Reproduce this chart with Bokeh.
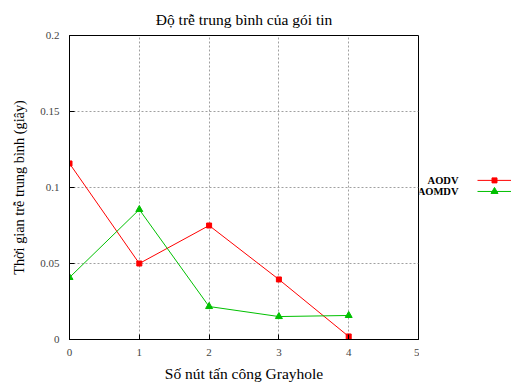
from bokeh.plotting import figure
from bokeh.layouts import row
from bokeh.models import Range1d, FixedTicker
from bokeh.core.properties import value
from bokeh.embed import file_html
from bokeh.resources import INLINE

# data
nodes = [0, 1, 2, 3, 4]
aodv = [0.1158, 0.0500, 0.0750, 0.0395, 0.0020]
aomdv = [0.0408, 0.0855, 0.0217, 0.0151, 0.0158]
series_names = ["AODV", "AOMDV"]
x_ticks = [0, 1, 2, 3, 4, 5]
y_ticks = [0, 0.05, 0.1, 0.15, 0.2]
y_tick_labels = {0: "0", 0.05: "0.05", 0.1: "0.1", 0.15: "0.15", 0.2: "0.2"}
title_text = "Độ trễ trung bình của gói tin"
x_title = "Số nút tấn công Grayhole"
y_title = "Thời gian trễ trung bình (giây)"

FONT = "Liberation Serif"
RED = "#ff0000"
GREEN = "#00c000"
GRID = "#a0a0a0"

W, H = 511, 384
ML, MB, MT = 69, 45, 35
MAIN_W = 419                   # frame right edge at page x = 418

p = figure(width=MAIN_W, height=H, output_backend="svg", toolbar_location=None,
           x_range=Range1d(x_ticks[0], x_ticks[-1]), y_range=Range1d(y_ticks[0], y_ticks[-1]),
           min_border_left=ML, min_border_right=1, min_border_bottom=MB, min_border_top=MT)
p.outline_line_color = "black"
p.outline_line_width = 1
p.background_fill_color = "white"
p.border_fill_color = "white"

p.title.text = title_text
p.title.text_font = FONT
p.title.text_font_size = "15.5px"
p.title.text_font_style = "normal"
p.title.text_color = "black"
p.title.align = "center"
p.title.standoff = 15

for ax in (p.xaxis[0], p.yaxis[0]):
    ax.axis_line_color = "black"
    ax.major_tick_in = 5
    ax.major_tick_out = 0
    ax.minor_tick_line_color = None
    ax.major_tick_line_color = "black"
    ax.major_label_text_font = FONT
    ax.major_label_text_font_size = "11px"
    ax.major_label_text_color = "#444444"
    ax.axis_label_text_font = FONT
    ax.axis_label_text_font_style = "normal"
    ax.axis_label_text_color = "black"

p.xaxis.ticker = FixedTicker(ticks=x_ticks)
p.yaxis.ticker = FixedTicker(ticks=y_ticks)
p.yaxis.major_label_overrides = y_tick_labels
p.xaxis.major_label_standoff = 9
p.yaxis.major_label_standoff = 10
p.xaxis.axis_label = x_title
p.yaxis.axis_label = y_title
p.xaxis.axis_label_text_font_size = "15.5px"
p.yaxis.axis_label_text_font_size = "14.3px"
p.xaxis.axis_label_standoff = 6
p.yaxis.axis_label_standoff = 10

for g in (p.xgrid[0], p.ygrid[0]):
    g.grid_line_color = GRID
    g.grid_line_dash = "2 2"
    g.grid_line_width = 1

p.line(nodes, aodv, line_color=RED, line_width=1)
p.scatter(nodes, aodv, marker="square", size=5, color=RED)
p.line(nodes, aomdv, line_color=GREEN, line_width=1)
p.scatter(nodes, aomdv, marker="triangle", size=7, color=GREEN)

# legend panel to the right (coordinates = page pixels)
LG_X0 = MAIN_W
lg = figure(width=W - MAIN_W, height=H, output_backend="svg", toolbar_location=None,
            x_range=Range1d(LG_X0, W), y_range=Range1d(H, 0), min_border=0,
            x_axis_location=None, y_axis_location=None, title=None)
lg.grid.visible = False
lg.outline_line_color = None
lg.border_fill_color = "white"
lg.background_fill_color = "white"

leg_y = [183, 197]
colors = [RED, GREEN]
lg.text(x=[458, 458], y=leg_y, text=series_names, text_align="right",
        text_baseline="middle", text_font=value(FONT), text_font_size="10.5px",
        text_font_style="bold", text_color="black")
lg.segment(x0=[477, 477], y0=leg_y, x1=[W, W], y1=leg_y, line_color=colors, line_width=1)
lg.scatter([494], [leg_y[0]], marker="square", size=5, color=RED)
lg.scatter([494], [leg_y[1]], marker="triangle", size=7, color=GREEN)

layout = row(p, lg, spacing=0)
open("out.html", "w").write(file_html(layout, INLINE))
